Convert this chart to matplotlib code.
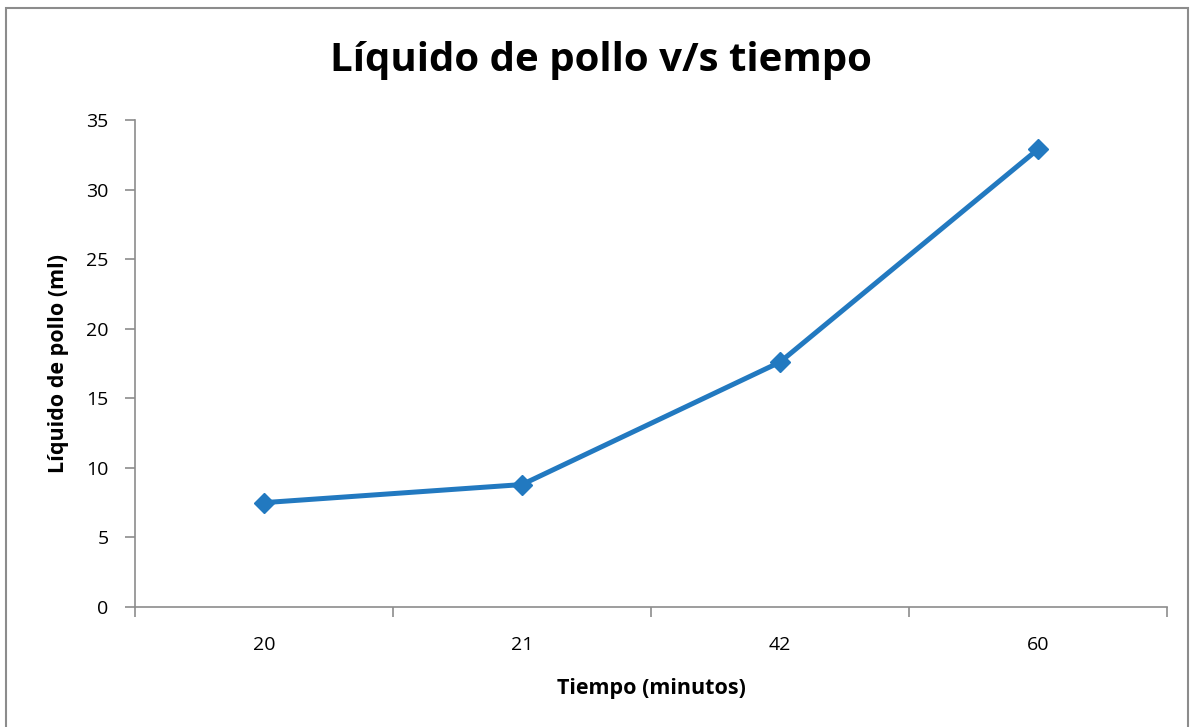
import matplotlib.pyplot as plt
from matplotlib.patches import Rectangle

# data
tiempo = ['20', '21', '42', '60']
liquido = [7.5, 8.8, 17.6, 32.9]
y_ticks = [0, 5, 10, 15, 20, 25, 30, 35]

plt.rcParams['font.family'] = ['Open Sans', 'DejaVu Sans']

W, H = 1195, 727
fig = plt.figure(figsize=(W / 100, H / 100), dpi=100)

# outer chart border
fig.patches.append(Rectangle((6 / W, -0.01), (1188 - 6) / W, 1 - 8 / H + 0.01,
                             transform=fig.transFigure, fill=False,
                             edgecolor='#8c8c8c', linewidth=1.5))

# axes box in pixels: left 135, right 1167, top 120, bottom 607
ax = fig.add_axes([135 / W, 1 - 607 / H, (1167 - 135) / W, (607 - 120) / H])

x = list(range(len(tiempo)))
ax.plot(x, liquido, color='#2279c0', linewidth=3.6, marker='D',
        markersize=10, markeredgecolor='#2279c0', solid_joinstyle='round')

ax.set_xlim(-0.5, len(tiempo) - 0.5)
ax.set_ylim(0, 35)
ax.set_yticks(y_ticks)
ax.set_yticklabels([str(v) for v in y_ticks], fontsize=14)

# category labels centered, tick marks between categories
ax.set_xticks(x)
ax.set_xticklabels(tiempo, fontsize=14)
ax.tick_params(axis='x', which='major', length=0, pad=21)
ax.set_xticks([i - 0.5 for i in range(len(tiempo) + 1)], minor=True)
ax.tick_params(axis='x', which='minor', length=7, color='#8c8c8c', width=1.2)
ax.tick_params(axis='y', length=7, color='#8c8c8c', width=1.2, pad=12)

for s in ['top', 'right']:
    ax.spines[s].set_visible(False)
for s in ['left', 'bottom']:
    ax.spines[s].set_color('#8c8c8c')
    ax.spines[s].set_linewidth(1.2)

ax.set_xlabel('Tiempo (minutos)', fontsize=15.5, fontweight='bold', labelpad=17)
ax.set_ylabel('Líquido de pollo (ml)', fontsize=15.5, fontweight='bold', labelpad=12)

fig.text(601 / W, 1 - 60 / H, 'Líquido de pollo v/s tiempo', ha='center', va='center',
         fontsize=29, fontweight='bold')

fig.savefig('out.png', dpi=100)
